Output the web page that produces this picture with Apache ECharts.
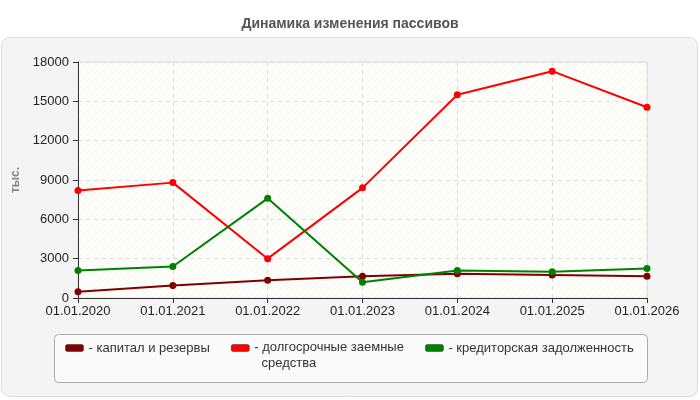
<!DOCTYPE html>
<html>
<head>
<meta charset="utf-8">
<script src="https://cdn.jsdelivr.net/npm/echarts@6/dist/echarts.min.js"></script>
<style>
  html, body { margin: 0; padding: 0; background: #fff; }
  #chart { width: 700px; height: 400px; }
</style>
</head>
<body>
<div id="chart"></div>
<script>
const categories = ['01.01.2020', '01.01.2021', '01.01.2022', '01.01.2023', '01.01.2024', '01.01.2025', '01.01.2026']
const capital = [480, 950, 1350, 1650, 1850, 1750, 1650]
const longLoans = [8200, 8800, 3000, 8400, 15500, 17300, 14550]
const payables = [2100, 2400, 7600, 1200, 2100, 2000, 2250]
const seriesNames = ['капитал и резервы', 'долгосрочные заемные средства', 'кредиторская задолженность']
const seriesColors = ['#800000', '#ff0000', '#008000']

const font = '"Liberation Sans", Arial, sans-serif'

// light diagonal hatch for the plot background
function hatch() {
  const c = document.createElement('canvas')
  c.width = 6
  c.height = 6
  const ctx = c.getContext('2d')
  ctx.fillStyle = '#fefefb'
  ctx.fillRect(0, 0, 6, 6)
  ctx.strokeStyle = '#f5f5f0'
  ctx.lineWidth = 1
  ctx.beginPath()
  ctx.moveTo(0, 6)
  ctx.lineTo(6, 0)
  ctx.stroke()
  return { image: c, repeat: 'repeat' }
}

const chart = echarts.init(document.getElementById('chart'))

chart.setOption({
  animation: false,
  textStyle: { fontFamily: font },
  title: {
    text: 'Динамика изменения пассивов',
    left: 'center',
    top: 12,
    textStyle: { fontSize: 14, fontWeight: 'bold', color: '#555', fontFamily: font }
  },
  graphic: [{
    type: 'rect',
    z: -10,
    silent: true,
    shape: { x: 1.5, y: 37.5, width: 696, height: 359, r: 8 },
    style: { fill: '#f4f4f4', stroke: '#dddddd', lineWidth: 1 }
  }, {
    type: 'rect',
    z: -9,
    silent: true,
    shape: { x: 54.5, y: 334.5, width: 593, height: 48, r: 4 },
    style: { fill: '#fafafa', stroke: '#aaaaaa', lineWidth: 1 }
  }],
  grid: {
    left: 78,
    right: 53,
    top: 62,
    bottom: 102,
    show: true,
    backgroundColor: hatch(),
    borderColor: '#dddddd',
    borderWidth: 1
  },
  legend: {
    left: 65,
    top: 341,
    padding: 0,
    itemGap: 21,
    itemWidth: 18,
    itemHeight: 7,
    icon: 'roundRect',
    itemStyle: { borderColor: 'rgba(0,0,0,0.35)', borderWidth: 1 },
    data: seriesNames,
    formatter: function (name) {
      if (name === 'долгосрочные заемные средства') {
        return '{a|- долгосрочные заемные}\n{b|  средства}'
      }
      return '- ' + name
    },
    textStyle: {
      fontSize: 13,
      color: '#333',
      fontFamily: font,
      rich: {
        a: { lineHeight: 30 },
        b: { lineHeight: 1 }
      }
    }
  },
  xAxis: {
    type: 'category',
    data: categories,
    boundaryGap: false,
    axisLine: { lineStyle: { color: '#333' } },
    axisTick: { show: true, length: 5, lineStyle: { color: '#333' } },
    axisLabel: { fontSize: 13, color: '#222', margin: 7, fontFamily: font },
    splitLine: { show: true, lineStyle: { color: '#dddddd', type: [4, 4] } }
  },
  yAxis: {
    type: 'value',
    min: 0,
    max: 18000,
    interval: 3000,
    name: 'тыс.',
    nameLocation: 'middle',
    nameRotate: 90,
    nameGap: 49,
    nameTextStyle: { fontSize: 12, fontWeight: 'bold', color: '#888', fontFamily: font },
    axisLine: { show: true, lineStyle: { color: '#333' } },
    axisTick: { show: true, length: 5, lineStyle: { color: '#333' } },
    axisLabel: {
      fontSize: 13, color: '#222', margin: 9, fontFamily: font,
      formatter: function (v) { return String(v) }
    },
    splitLine: { show: true, lineStyle: { color: '#dddddd', type: [4, 4] } }
  },
  series: [capital, longLoans, payables].map(function (values, i) {
    return {
      name: seriesNames[i],
      type: 'line',
      data: values,
      color: seriesColors[i],
      symbol: 'circle',
      symbolSize: 7,
      lineStyle: { width: 2, color: seriesColors[i] },
      itemStyle: { color: seriesColors[i] }
    }
  })
})
</script>
</body>
</html>
